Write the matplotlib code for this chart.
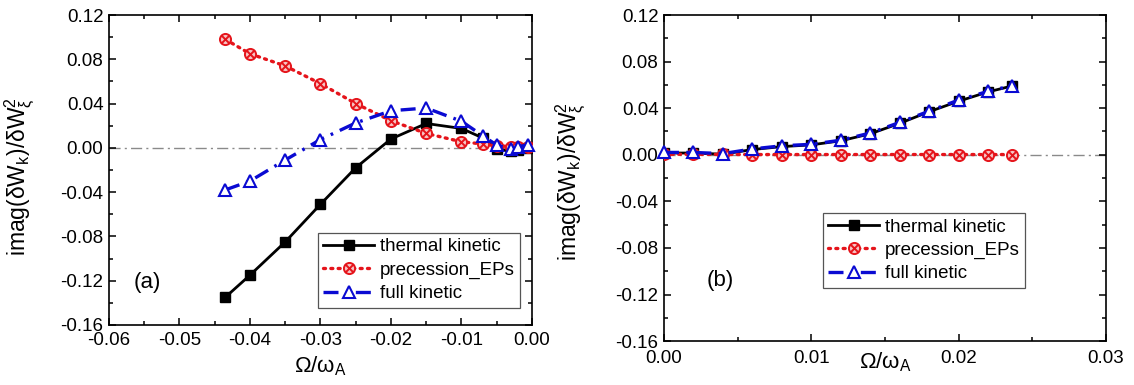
# ======================================================
# Kinetic contribution imag(dWk)/dWxi^2 versus rotation
# Panel (a): negative rotation, panel (b): positive rotation
# ======================================================

import matplotlib
matplotlib.use("Agg")
import matplotlib.pyplot as plt
from matplotlib.path import Path
from matplotlib.ticker import MultipleLocator, FormatStrFormatter

plt.rcParams.update({
    "font.family": ["Liberation Sans", "DejaVu Sans"],
    "mathtext.default": "regular",
    "axes.unicode_minus": False,
    "axes.linewidth": 1.2,
})

# ------------------------------------------------------
# DATA — panel (a), Omega/omega_A < 0
# ------------------------------------------------------
omega_a = [-0.0435, -0.040, -0.035, -0.030, -0.025, -0.020, -0.015,
           -0.010, -0.007, -0.005, -0.003, -0.002, -0.0005]
thermal_a = [-0.135, -0.115, -0.085, -0.051, -0.018, 0.008, 0.022,
             0.0175, 0.009, -0.0012, -0.003, -0.002, -0.0005]
precession_a = [0.098, 0.085, 0.074, 0.058, 0.040, 0.0245, 0.013,
                0.0055, 0.0035, 0.0018, 0.0012, 0.0010, 0.0008]
full_a = [-0.038, -0.030, -0.011, 0.0075, 0.0225, 0.0335, 0.036,
          0.024, 0.011, 0.0025, -0.001, 0.0012, 0.0025]

# ------------------------------------------------------
# DATA — panel (b), Omega/omega_A > 0
# ------------------------------------------------------
omega_b = [0.000, 0.002, 0.004, 0.006, 0.008, 0.010, 0.012,
           0.014, 0.016, 0.018, 0.020, 0.022, 0.0236]
thermal_b = [0.0015, 0.0015, 0.0005, 0.0045, 0.007, 0.0085, 0.012,
             0.018, 0.027, 0.037, 0.046, 0.054, 0.059]
precession_b = [0.0004, 0.0004, 0.0003, 0.0002, 0.0002, 0.0002, 0.0002,
                0.0002, 0.0002, 0.0002, 0.0002, 0.0002, 0.0002]
full_b = [0.002, 0.002, 0.001, 0.005, 0.0077, 0.009, 0.0125,
          0.0187, 0.0278, 0.0375, 0.047, 0.0545, 0.0593]

labels = ["thermal kinetic", "precession_EPs", "full kinetic"]
panel_tags = ["(a)", "(b)"]

# circle with a cross inside, used for the EP curve
otimes = Path.make_compound_path(
    Path.unit_circle(),
    Path([[-0.707, -0.707], [0.707, 0.707]], [Path.MOVETO, Path.LINETO]),
    Path([[-0.707, 0.707], [0.707, -0.707]], [Path.MOVETO, Path.LINETO]),
)

RED = "#e5141b"
BLUE = "#0a0ad2"


def draw_panel(ax, x, thermal, precession, full, xpad):
    # zero reference line
    ax.axhline(0.0, color="#8a8a8a", lw=1.0, ls=(0, (8, 3, 1.5, 3)), zorder=1)

    ax.plot(x, thermal, color="black", lw=2.0, marker="s", ms=7,
            mfc="black", mec="black", label=labels[0], zorder=3)
    ax.plot(x, precession, color=RED, lw=2.4, ls=(0, (0.6, 1.6)),
            dash_capstyle="round", marker=otimes, ms=8, mfc="#f6c4c4",
            mec=RED, mew=1.4, label=labels[1], zorder=4)
    ax.plot(x, full, color=BLUE, lw=2.4, ls=(0, (4.5, 2.2, 0.8, 2.2)),
            marker="^", ms=8, mfc="white", mec=BLUE, mew=1.5,
            label=labels[2], zorder=5, clip_on=False)

    ax.set_ylim(-0.16, 0.12)
    ax.yaxis.set_major_locator(MultipleLocator(0.04))
    ax.yaxis.set_minor_locator(MultipleLocator(0.02))
    ax.xaxis.set_major_locator(MultipleLocator(0.01))
    ax.xaxis.set_minor_locator(MultipleLocator(0.005))
    ax.xaxis.set_major_formatter(FormatStrFormatter("%.2f"))
    ax.yaxis.set_major_formatter(FormatStrFormatter("%.2f"))
    ax.tick_params(which="both", direction="in", top=True, right=True,
                   labelsize=13.5, width=1.1)
    ax.tick_params(which="major", length=5)
    ax.tick_params(which="minor", length=3)
    ax.tick_params(axis="y", which="major", pad=4)
    ax.tick_params(axis="x", which="major", pad=xpad)

    ax.set_xlabel("Ω/ω$_A$", fontsize=16)
    ax.set_ylabel("imag(δW$_k$)/δW$_{ξ}^{2}$", fontsize=16.5)

    leg = ax.legend(loc="lower right", fontsize=13.5, frameon=True,
                    fancybox=False, edgecolor="#555555", framealpha=1,
                    borderaxespad=0, handlelength=2.7, handletextpad=0.3,
                    labelspacing=0.33, borderpad=0.3)
    leg.get_frame().set_linewidth(0.9)
    return leg


# ======================================================
# FIGURE
# ======================================================
fig = plt.figure(figsize=(11.34, 3.85), dpi=100)
ax_a = fig.add_axes([0.0961, 0.156, 0.373, 0.805])
ax_b = fig.add_axes([0.5855, 0.114, 0.3898, 0.847])

leg_a = draw_panel(ax_a, omega_a, thermal_a, precession_a, full_a, xpad=5)
ax_a.set_xlim(-0.06, 0.0)
ax_a.xaxis.set_label_coords(0.5, -0.095)
ax_a.yaxis.set_label_coords(-0.168, 0.48)
ax_a.text(-0.0546, -0.122, panel_tags[0], fontsize=16, ha="center", va="center")
leg_a.set_bbox_to_anchor((0.972, 0.055), transform=ax_a.transAxes)

leg_b = draw_panel(ax_b, omega_b, thermal_b, precession_b, full_b, xpad=6.5)
ax_b.set_xlim(0.0, 0.03)
ax_b.xaxis.set_label_coords(0.5, -0.03)
ax_b.yaxis.set_label_coords(-0.17, 0.49)
ax_b.text(0.0038, -0.1076, panel_tags[1], fontsize=16, ha="center", va="center")
leg_b.set_bbox_to_anchor((0.817, 0.163), transform=ax_b.transAxes)

fig.savefig("out.png", dpi=100)
plt.close(fig)
